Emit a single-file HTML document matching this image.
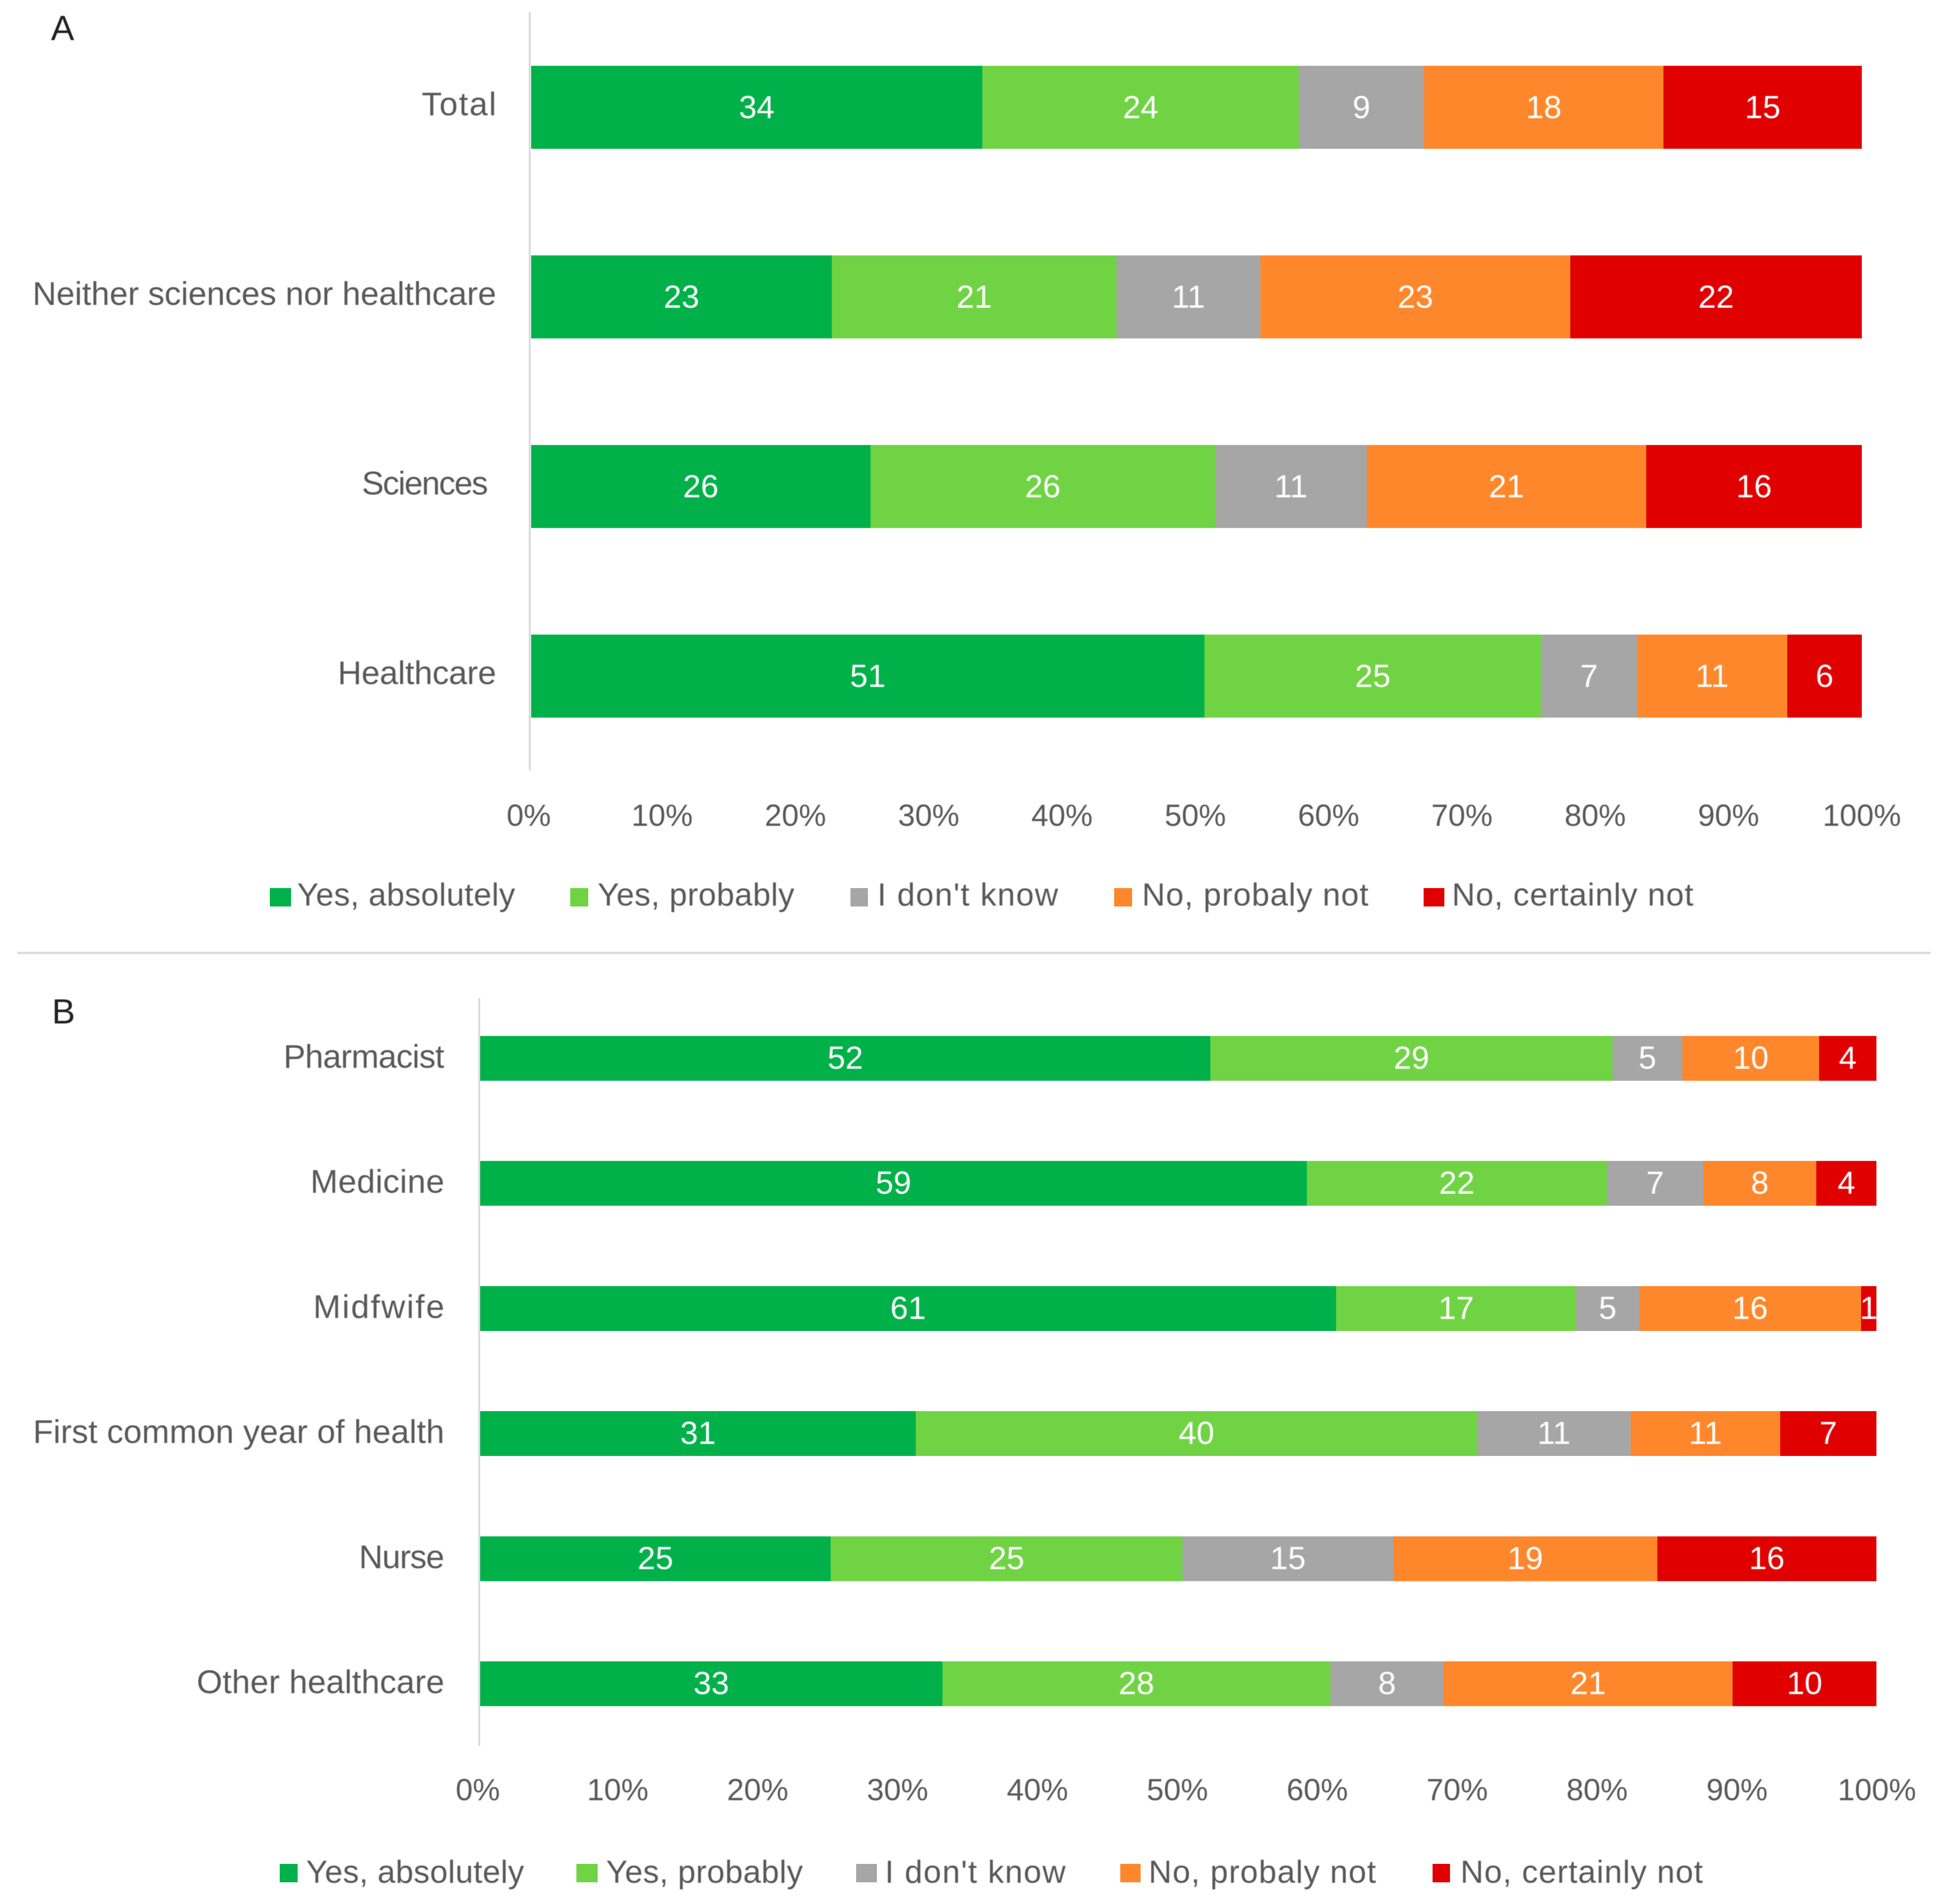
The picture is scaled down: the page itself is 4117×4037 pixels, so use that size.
<!DOCTYPE html>
<html lang="en">
<head>
<meta charset="utf-8">
<title>Stacked bar charts A and B</title>
<style>
  html, body { margin: 0; padding: 0; background: #ffffff; }
  svg { display: block; }
  text { font-family: "Liberation Sans", sans-serif; }
  .soft { filter: blur(0.9px); }
  .cat { font-size: 70px; fill: #595959; text-anchor: end; }
  .tick { font-size: 65px; fill: #595959; text-anchor: middle; }
  .val { font-size: 68px; fill: #ffffff; text-anchor: middle; }
  .leg { font-size: 68px; fill: #595959; }
  .panel { font-size: 74px; fill: #222222; }
</style>
</head>
<body>
<svg id="chart" xmlns="http://www.w3.org/2000/svg" width="4117" height="4037" viewBox="0 0 4117 4037">
  <rect x="0" y="0" width="4117" height="4037" fill="#ffffff"/>

  <text class="panel soft" x="108" y="85">A</text>
  <text class="panel soft" x="110" y="2170">B</text>

  <rect x="37" y="2018" width="4056" height="5" fill="#dcdcdc"/>

  <line x1="1123" y1="25" x2="1123" y2="1633" stroke="#d9d9d9" stroke-width="4"/>
  <line x1="1016" y1="2116" x2="1016" y2="3702" stroke="#d9d9d9" stroke-width="4"/>

  <g>
    <rect x="572" y="1883" width="45" height="39" fill="#00b14a"/>
    <text class="leg soft" x="630" y="1920" textLength="462">Yes, absolutely</text>
    <rect x="1209" y="1883" width="38" height="39" fill="#70d344"/>
    <text class="leg soft" x="1267" y="1920" textLength="417">Yes, probably</text>
    <rect x="1803" y="1883" width="37" height="39" fill="#a6a6a6"/>
    <text class="leg soft" x="1860" y="1920" textLength="383">I don't know</text>
    <rect x="2362" y="1883" width="38" height="39" fill="#ff872b"/>
    <text class="leg soft" x="2421" y="1920" textLength="480">No, probaly not</text>
    <rect x="3018" y="1883" width="44" height="39" fill="#e00000"/>
    <text class="leg soft" x="3078" y="1920" textLength="512">No, certainly not</text>
  </g>

  <g>
    <rect x="593" y="3952" width="38" height="39" fill="#00b14a"/>
    <text class="leg soft" x="649" y="3992" textLength="462">Yes, absolutely</text>
    <rect x="1222" y="3952" width="45" height="39" fill="#70d344"/>
    <text class="leg soft" x="1285" y="3992" textLength="417">Yes, probably</text>
    <rect x="1815" y="3952" width="44" height="39" fill="#a6a6a6"/>
    <text class="leg soft" x="1876" y="3992" textLength="383">I don't know</text>
    <rect x="2375" y="3952" width="43" height="39" fill="#ff872b"/>
    <text class="leg soft" x="2435" y="3992" textLength="482">No, probaly not</text>
    <rect x="3037" y="3952" width="37" height="39" fill="#e00000"/>
    <text class="leg soft" x="3096" y="3992" textLength="514">No, certainly not</text>
  </g>

  <g id="panel-a"></g>
  <g id="panel-b"></g>
</svg>

<script>
const tickValues = [0, 10, 20, 30, 40, 50, 60, 70, 80, 90, 100];
const seriesKeys = ['yes-absolutely', 'yes-probably', 'dont-know', 'probably-not', 'certainly-not'];
const seriesColors = ['#00b14a', '#70d344', '#a6a6a6', '#ff872b', '#e00000'];

const categoriesA = ['Total', 'Neither sciences nor healthcare', 'Sciences\u00a0', 'Healthcare'];
const yesAbsolutelyA = [33.9, 22.6, 25.5, 50.6];
const yesProbablyA = [23.8, 21.4, 25.9, 25.3];
const dontKnowA = [9.4, 10.8, 11.4, 7.2];
const probablyNotA = [18.0, 23.3, 21.0, 11.3];
const certainlyNotA = [14.9, 21.9, 16.2, 5.6];

const categoriesB = ['Pharmacist', 'Medicine', 'Midfwife', 'First common year of health', 'Nurse', 'Other healthcare'];
const yesAbsolutelyB = [52.3, 59.2, 61.3, 31.2, 25.1, 33.1];
const yesProbablyB = [28.8, 21.5, 17.2, 40.2, 25.2, 27.8];
const dontKnowB = [5.0, 6.9, 4.5, 11.0, 15.1, 8.1];
const probablyNotB = [9.8, 8.1, 15.9, 10.7, 18.9, 20.7];
const certainlyNotB = [4.1, 4.3, 1.1, 6.9, 15.7, 10.3];

const SVG_NS = 'http://www.w3.org/2000/svg';

function drawPanel(root, categories, series, layout) {
  const xBar = function (v) { return layout.barStart + v * layout.barUnit; };
  const xTick = function (v) { return layout.tickStart + v * layout.tickUnit; };
  const yBand = function (i) { return layout.firstCenter + i * layout.step; };

  categories.forEach(function (name, i) {
    const label = document.createElementNS(SVG_NS, 'text');
    
    
    label.setAttribute('class', 'cat soft');
    label.setAttribute('x', layout.labelEnd);
    label.setAttribute('y', yBand(i) + layout.labelShift + 25);
    label.setAttribute('textLength', layout.labelFit[name]);
    label.textContent = name;
    root.appendChild(label);

    let cumulative = 0;
    series.forEach(function (values, s) {
      const v = values[i];
      const x0 = xBar(cumulative);
      const x1 = xBar(cumulative + v);
      cumulative += v;

      const bar = document.createElementNS(SVG_NS, 'rect');
      
      
      bar.setAttribute('x', x0);
      bar.setAttribute('y', yBand(i) - layout.barHeight / 2);
      bar.setAttribute('width', x1 - x0);
      bar.setAttribute('height', layout.barHeight);
      bar.setAttribute('fill', seriesColors[s]);
      bar.setAttribute('shape-rendering', 'crispEdges');
      root.appendChild(bar);
    });

    cumulative = 0;
    series.forEach(function (values, s) {
      const v = values[i];
      const mid = xBar(cumulative + v / 2);
      cumulative += v;

      const printed = document.createElementNS(SVG_NS, 'text');
      
      
      printed.setAttribute('class', 'val soft');
      printed.setAttribute('x', mid);
      printed.setAttribute('y', yBand(i) + layout.valueShift);
      printed.textContent = String(Math.round(v));
      root.appendChild(printed);
    });
  });

  tickValues.forEach(function (t) {
    const tick = document.createElementNS(SVG_NS, 'text');
    
    
    tick.setAttribute('class', 'tick soft');
    tick.setAttribute('x', xTick(t));
    tick.setAttribute('y', layout.tickCenter + 23);
    tick.textContent = t + '%';
    root.appendChild(tick);
  });
}

drawPanel(
  document.getElementById('panel-a'), categoriesA,
  [yesAbsolutelyA, yesProbablyA, dontKnowA, probablyNotA, certainlyNotA],
  { barStart: 1126, barUnit: 28.21, tickStart: 1121, tickUnit: 28.26,
    firstCenter: 227.5, step: 402, barHeight: 176, labelEnd: 1052, labelShift: -8, valueShift: 23, tickCenter: 1728,
    labelFit: { 'Total': 158, 'Neither sciences nor healthcare': 983, 'Sciences\u00a0': 285, 'Healthcare': 336 } }
);

drawPanel(
  document.getElementById('panel-b'), categoriesB,
  [yesAbsolutelyB, yesProbablyB, dontKnowB, probablyNotB, certainlyNotB],
  { barStart: 1018, barUnit: 29.6, tickStart: 1013, tickUnit: 29.66,
    firstCenter: 2244, step: 265.2, barHeight: 95, labelEnd: 942, labelShift: -5, valueShift: 22, tickCenter: 3794,
    labelFit: { 'Pharmacist': 341, 'Medicine': 284, 'Midfwife': 278, 'First common year of health': 872, 'Nurse': 181, 'Other healthcare': 525 } }
);
</script>
</body>
</html>
